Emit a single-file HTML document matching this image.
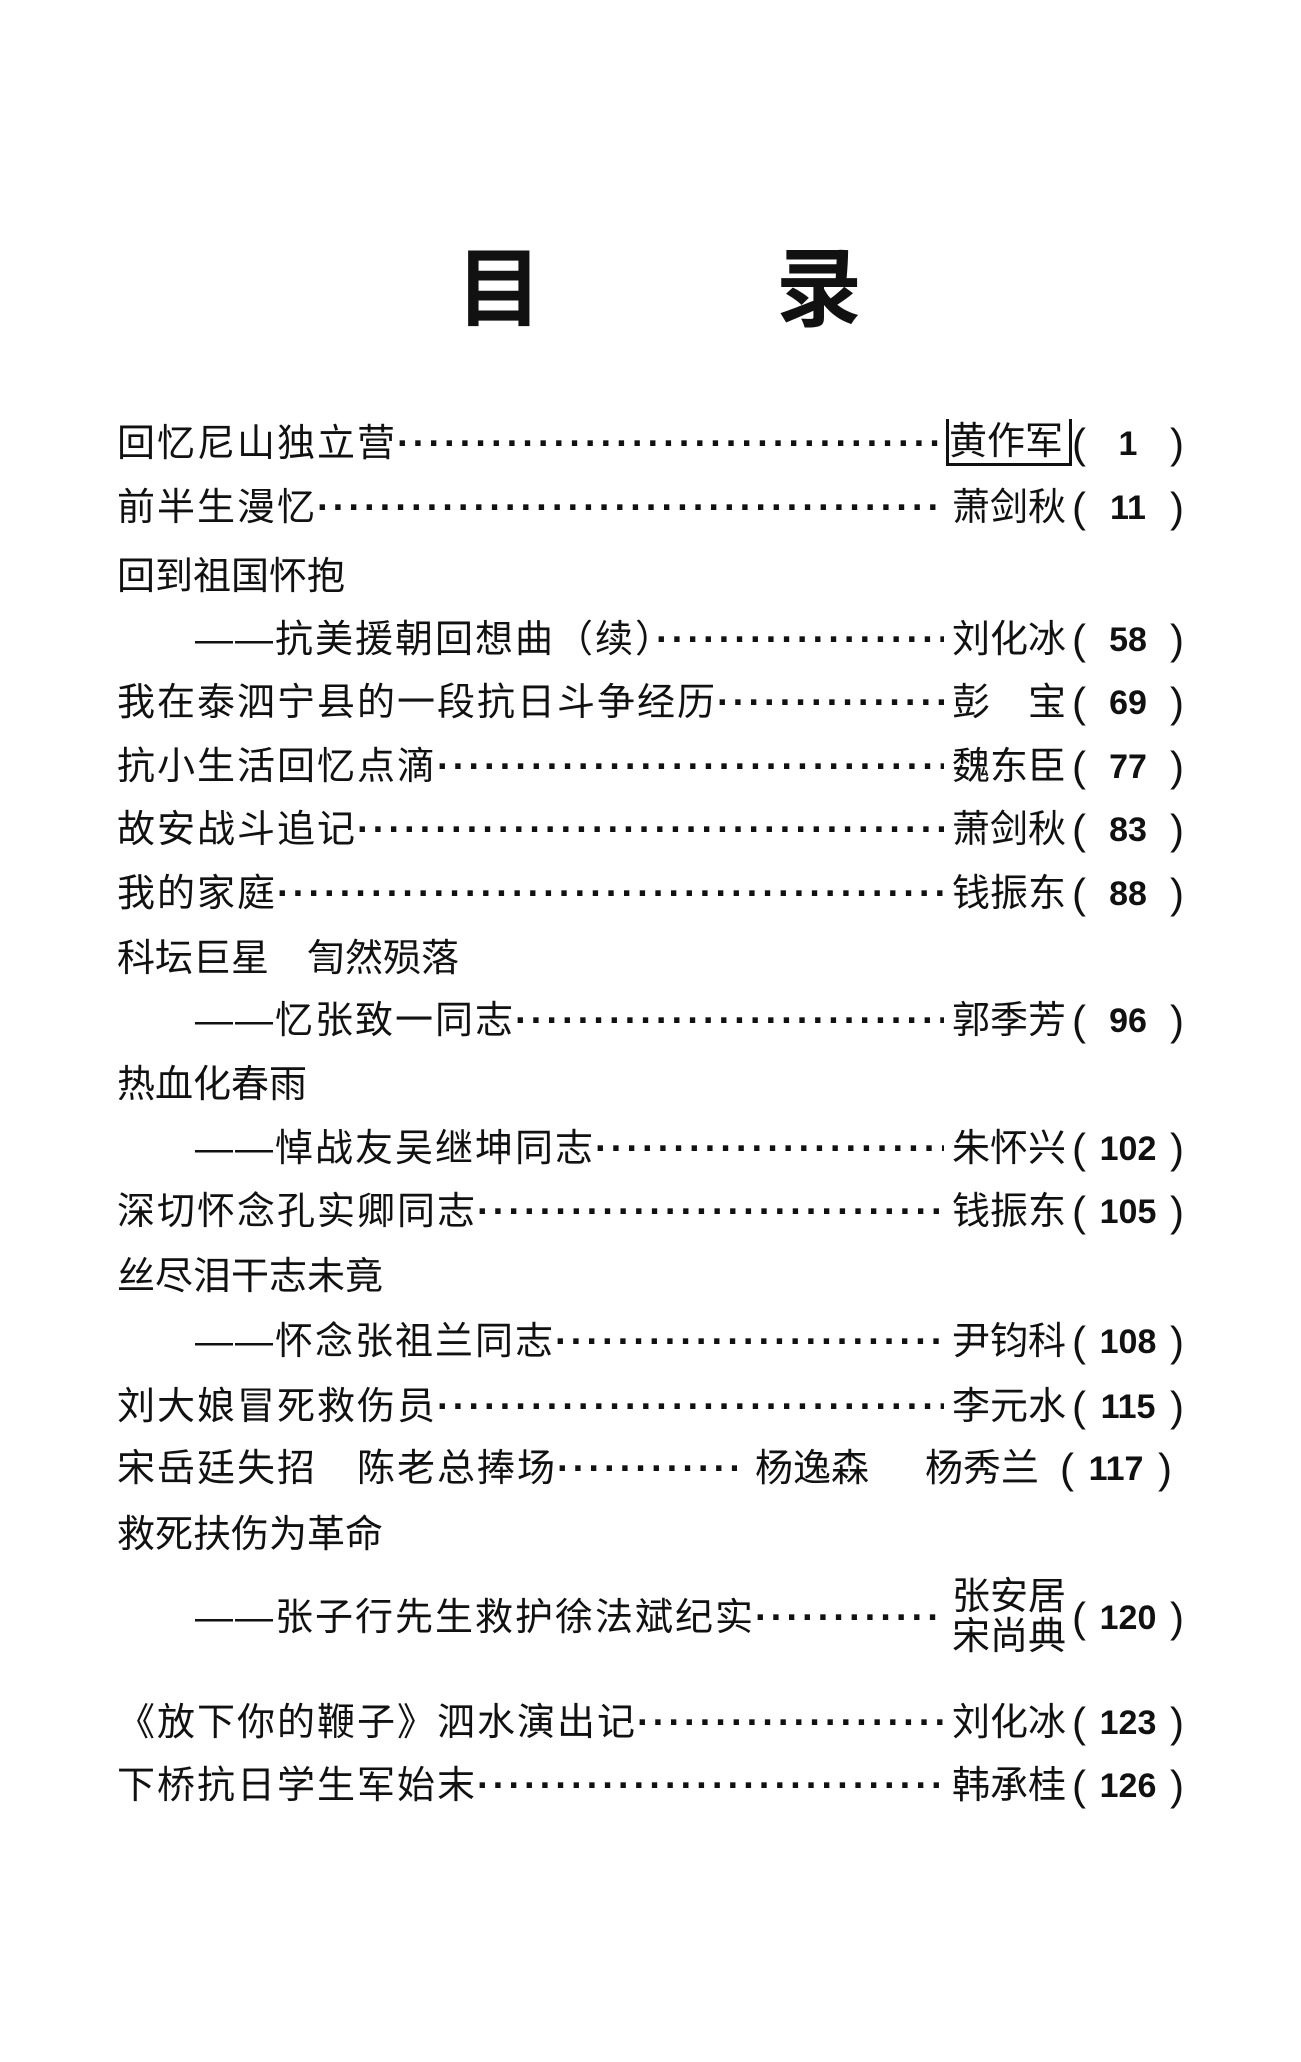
<!DOCTYPE html>
<html><head><meta charset="utf-8"><style>
body{margin:0;width:1301px;height:2062px;background:#fff;position:relative;overflow:hidden;font-family:"Liberation Sans","Noto Sans CJK SC",sans-serif;color:#111}
.t{position:absolute;top:240px;font-size:86px;font-weight:bold;line-height:100px}
.r{position:absolute;left:117px;width:1067px;height:50px;line-height:50px;font-size:38px;display:flex;white-space:nowrap}
.r.s{left:195px;width:989px}
.l{flex:1;overflow:hidden;letter-spacing:2px}
.l::after{content:"··································································································";letter-spacing:3px;font-weight:bold}
.a{width:120px;flex-shrink:0;text-align:left;margin-left:8px}
.p{width:112px;flex-shrink:0;display:flex;justify-content:space-between;font-size:42px}
.n{font-size:34px;font-weight:bold}
</style></head><body>
<div class="t" style="left:456px">目</div>
<div class="t" style="left:776px">录</div>

<div class="r" style="top:419px"><span class="l">回忆尼山独立营</span><span class="a" style="border:2px solid #111;border-width:0 3px 3px 3px;height:44px;line-height:46px">黄作军</span><span class="p"><span>(</span><span class="n">1</span><span>)</span></span></div>
<div class="r" style="top:483px"><span class="l">前半生漫忆</span><span class="a">萧剑秋</span><span class="p"><span>(</span><span class="n">11</span><span>)</span></span></div>
<div class="r" style="top:552px"><span>回到祖国怀抱</span></div>
<div class="r s" style="top:615px"><span class="l">——抗美援朝回想曲（续）</span><span class="a">刘化冰</span><span class="p"><span>(</span><span class="n">58</span><span>)</span></span></div>
<div class="r" style="top:678px"><span class="l">我在泰泗宁县的一段抗日斗争经历</span><span class="a">彭　宝</span><span class="p"><span>(</span><span class="n">69</span><span>)</span></span></div>
<div class="r" style="top:742px"><span class="l">抗小生活回忆点滴</span><span class="a">魏东臣</span><span class="p"><span>(</span><span class="n">77</span><span>)</span></span></div>
<div class="r" style="top:805px"><span class="l">故安战斗追记</span><span class="a">萧剑秋</span><span class="p"><span>(</span><span class="n">83</span><span>)</span></span></div>
<div class="r" style="top:869px"><span class="l">我的家庭</span><span class="a">钱振东</span><span class="p"><span>(</span><span class="n">88</span><span>)</span></span></div>
<div class="r" style="top:934px"><span>科坛巨星　訇然殒落</span></div>
<div class="r s" style="top:996px"><span class="l">——忆张致一同志</span><span class="a">郭季芳</span><span class="p"><span>(</span><span class="n">96</span><span>)</span></span></div>
<div class="r" style="top:1060px"><span>热血化春雨</span></div>
<div class="r s" style="top:1124px"><span class="l">——悼战友吴继坤同志</span><span class="a">朱怀兴</span><span class="p"><span>(</span><span class="n">102</span><span>)</span></span></div>
<div class="r" style="top:1187px"><span class="l">深切怀念孔实卿同志</span><span class="a">钱振东</span><span class="p"><span>(</span><span class="n">105</span><span>)</span></span></div>
<div class="r" style="top:1252px"><span>丝尽泪干志未竟</span></div>
<div class="r s" style="top:1317px"><span class="l">——怀念张祖兰同志</span><span class="a">尹钧科</span><span class="p"><span>(</span><span class="n">108</span><span>)</span></span></div>
<div class="r" style="top:1382px"><span class="l">刘大娘冒死救伤员</span><span class="a">李元水</span><span class="p"><span>(</span><span class="n">115</span><span>)</span></span></div>
<div class="r" style="top:1444px"><span class="l" style="flex:none;width:620px">宋岳廷失招　陈老总捧场</span></div>
<div class="r" style="top:1444px;left:755px;width:160px">杨逸森</div>
<div class="r" style="top:1444px;left:925px;width:259px"><span class="a" style="margin-left:0;width:118px">杨秀兰</span><span class="p" style="margin-left:17px"><span>(</span><span class="n">117</span><span>)</span></span></div>
<div class="r" style="top:1510px"><span>救死扶伤为革命</span></div>
<div class="r s" style="top:1593px"><span class="l">——张子行先生救护徐法斌纪实</span><span class="a" style="line-height:40px;margin-top:-16px">张安居<br>宋尚典</span><span class="p"><span>(</span><span class="n">120</span><span>)</span></span></div>
<div class="r" style="top:1698px"><span class="l">《放下你的鞭子》泗水演出记</span><span class="a">刘化冰</span><span class="p"><span>(</span><span class="n">123</span><span>)</span></span></div>
<div class="r" style="top:1761px"><span class="l">下桥抗日学生军始末</span><span class="a">韩承桂</span><span class="p"><span>(</span><span class="n">126</span><span>)</span></span></div>
</body></html>
